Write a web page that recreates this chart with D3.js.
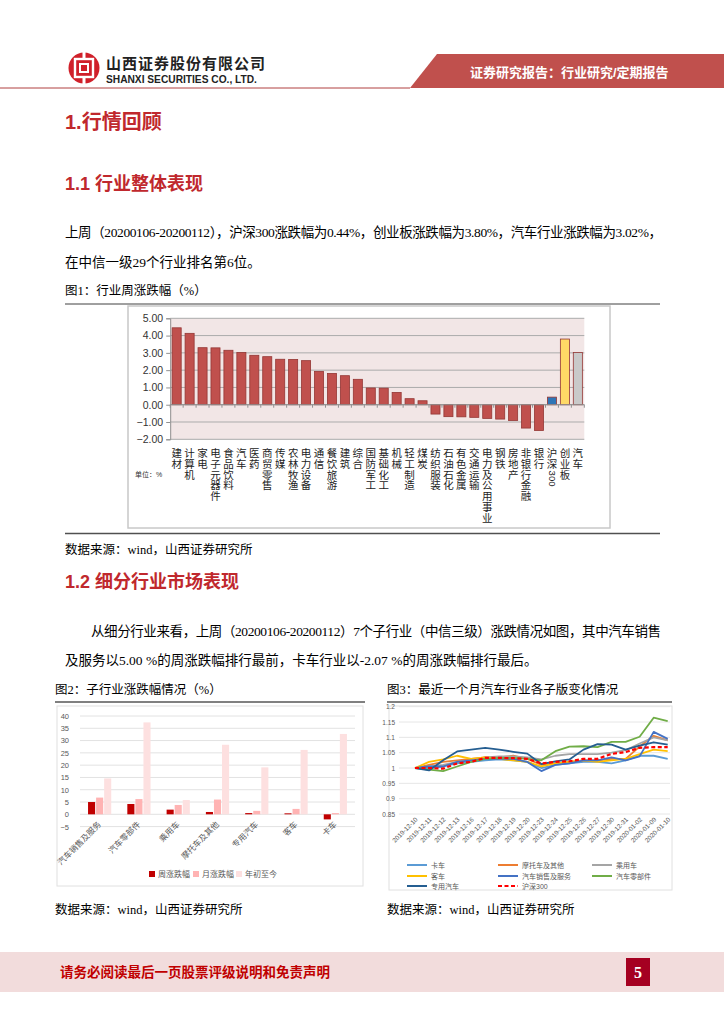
<!DOCTYPE html>
<html><head><meta charset="utf-8">
<script src="https://cdn.jsdelivr.net/npm/d3@7/dist/d3.min.js"></script>
<style>
html,body{margin:0;padding:0;background:#fff;}
svg{display:block;}
text{font-family:"Liberation Serif","Noto Sans CJK SC",serif;}
.sans{font-family:"Liberation Sans","Noto Sans CJK SC",sans-serif;}
</style></head>
<body>
<svg id="page" width="724" height="1024"></svg>
<script>
// ---------- DATA ----------
const industries = ["建材","计算机","家电","电子元器件","食品饮料","汽车","医药","商贸零售","传媒","农林牧渔","电力设备","通信","餐饮旅游","建筑","综合","国防军工","基础化工","机械","轻工制造","煤炭","纺织服装","石油石化","有色金属","交通运输","电力及公用事业","钢铁","房地产","非银行金融","银行","沪深300","创业板","汽车"];
const weeklyChange = [4.45,4.13,3.30,3.29,3.15,3.02,2.86,2.78,2.63,2.62,2.55,1.93,1.81,1.68,1.47,0.97,0.96,0.71,0.35,0.23,-0.54,-0.69,-0.70,-0.73,-0.79,-0.83,-0.91,-1.35,-1.49,0.44,3.80,3.02];
const mainTicks = [5,4,3,2,1,0,-1,-2];

const subCats = ["汽车销售及服务","汽车零部件","乘用车","摩托车及其他","专用汽车","客车","卡车"];
const subWeekly = [5.00,4.20,1.90,0.95,0.50,0.40,-2.07];
const subMonthly = [6.80,6.20,3.80,6.00,1.40,2.20,0.50];
const subYTD = [14.6,37.4,5.8,28.3,19.1,26.2,32.7];
const subSeriesNames = ["周涨跌幅","月涨跌幅","年初至今"];
const subTicks = [40,35,30,25,20,15,10,5,0,-5];

const dates = ["2019-12-10","2019-12-11","2019-12-12","2019-12-13","2019-12-16","2019-12-17","2019-12-18","2019-12-19","2019-12-20","2019-12-23","2019-12-24","2019-12-25","2019-12-26","2019-12-27","2019-12-30","2019-12-31","2020-01-02","2020-01-09","2020-01-10"];
const truck     = [1.000,1.000,1.005,1.015,1.020,1.025,1.028,1.025,1.020,1.000,1.010,1.015,1.020,1.020,1.015,1.025,1.040,1.040,1.030];
const moto      = [1.000,1.010,1.020,1.025,1.030,1.035,1.035,1.040,1.030,1.010,1.015,1.020,1.025,1.025,1.030,1.030,1.070,1.105,1.090];
const passenger = [1.000,1.005,1.010,1.020,1.025,1.035,1.038,1.038,1.035,1.028,1.040,1.045,1.045,1.045,1.050,1.058,1.080,1.100,1.090];
const bus       = [1.000,1.020,1.028,1.040,1.030,1.035,1.030,1.025,1.020,1.005,1.015,1.020,1.025,1.020,1.025,1.030,1.045,1.060,1.055];
const sales     = [1.000,1.005,1.005,1.020,1.025,1.030,1.030,1.030,1.020,0.990,1.010,1.015,1.025,1.025,1.035,1.025,1.038,1.118,1.095];
const parts     = [1.000,0.995,0.990,1.005,1.020,1.030,1.033,1.033,1.030,1.025,1.055,1.070,1.071,1.068,1.085,1.085,1.102,1.164,1.153];
const special   = [1.000,0.992,1.025,1.054,1.060,1.066,1.060,1.053,1.047,1.013,1.022,1.028,1.060,1.078,1.076,1.060,1.073,1.084,1.076];
const hs300     = [1.000,1.000,0.998,1.015,1.020,1.033,1.033,1.032,1.030,1.015,1.020,1.022,1.030,1.030,1.046,1.052,1.066,1.068,1.068];
const lineNames = ["卡车","摩托车及其他","乘用车","客车","汽车销售及服务","汽车零部件","专用汽车","沪深300"];
const lineTicks = [1.2,1.15,1.1,1.05,1,0.95,0.9,0.85];

// ---------- PAGE ----------
const svg = d3.select("#page");
const RED = "#c0282d";

// header
svg.append("circle").attr("cx",84).attr("cy",68).attr("r",15.5).attr("fill","#d0202a");
svg.append("rect").attr("x",75).attr("y",59).attr("width",18).attr("height",18).attr("fill","none").attr("stroke","#fff").attr("stroke-width",2.4);
svg.append("rect").attr("x",80).attr("y",64).attr("width",8).attr("height",8).attr("fill","none").attr("stroke","#fff").attr("stroke-width",2);
svg.append("rect").attr("x",82.5).attr("y",52).attr("width",3).attr("height",7).attr("fill","#fff");
svg.append("rect").attr("x",82.5).attr("y",77).attr("width",3).attr("height",7).attr("fill","#fff");
svg.append("text").attr("x",106).attr("y",69).attr("class","sans").attr("font-size",15).attr("font-weight","bold").attr("fill","#222").attr("letter-spacing",1).text("山西证券股份有限公司");
svg.append("text").attr("x",106).attr("y",83).attr("class","sans").attr("font-size",10.2).attr("font-weight","bold").attr("fill","#222").text("SHANXI SECURITIES CO., LTD.");
svg.append("path").attr("d","M437,54 L724,54 L724,88 L410,88 Z").attr("fill","#c0504d");
svg.append("line").attr("x1",0).attr("x2",410).attr("y1",88).attr("y2",88).attr("stroke","#b04040").attr("stroke-width",1);
svg.append("text").attr("x",470).attr("y",77).attr("class","sans").attr("font-size",13).attr("font-weight","bold").attr("fill","#fff").text("证券研究报告：行业研究/定期报告");

// headings
function heading(txt,y,size){ svg.append("text").attr("x",65).attr("y",y).attr("class","sans").attr("font-size",size).attr("font-weight","bold").attr("fill",RED).text(txt); }
heading("1.行情回顾",129,20);
heading("1.1 行业整体表现",190,18);
heading("1.2 细分行业市场表现",588,18);

function para(txt,x,y,len){ const t=svg.append("text").attr("x",x).attr("y",y).attr("font-size",13.5).attr("fill","#000").text(txt); if(len) t.attr("textLength",len).attr("lengthAdjust","spacing"); }
para("上周（20200106-20200112），沪深300涨跌幅为0.44%，创业板涨跌幅为3.80%，汽车行业涨跌幅为3.02%，",65,237,597);
para("在中信一级29个行业排名第6位。",65,267);
para("从细分行业来看，上周（20200106-20200112）7个子行业（中信三级）涨跌情况如图，其中汽车销售",91,636,570);
para("及服务以5.00 %的周涨跌幅排行最前，卡车行业以-2.07 %的周涨跌幅排行最后。",65,665);

function cap(txt,x,y){ svg.append("text").attr("x",x).attr("y",y).attr("font-size",12.5).attr("fill","#000").text(txt); }
cap("图1：行业周涨跌幅（%）",65,295);
cap("数据来源：wind，山西证券研究所",65,554);
cap("图2：子行业涨跌幅情况（%）",55,694);
cap("图3：最近一个月汽车行业各子版变化情况",387,694);
cap("数据来源：wind，山西证券研究所",55,914);
cap("数据来源：wind，山西证券研究所",387,914);

function hline(x1,x2,y,w,c){ svg.append("line").attr("x1",x1).attr("x2",x2).attr("y1",y).attr("y2",y).attr("stroke",c).attr("stroke-width",w); }
hline(65,660,304,1,"#404040");
hline(65,660,533.5,1.5,"#505050");
hline(55,365,702,2,"#808080");
hline(387,672,702,2,"#808080");

// ---------- FIG 1 ----------
svg.append("rect").attr("x",128).attr("y",306).attr("width",482).attr("height",222).attr("fill","#fff").attr("stroke","#c8c8c8").attr("stroke-width",1.5);
const x1 = d3.scaleBand().domain(d3.range(industries.length)).range([170.2,584.3]).paddingInner(0.3).paddingOuter(0.15);
const y1 = d3.scaleLinear().domain([-2,5]).range([439.3,318.3]);
const g1 = svg.append("g");
g1.append("rect").attr("x",170.2).attr("y",y1(5)).attr("width",584.3-170.2).attr("height",y1(-2)-y1(5)).attr("fill","#f2e6e6");
g1.selectAll(".grid").data(mainTicks).join("line").attr("x1",170.2).attr("x2",584.3).attr("y1",d=>y1(d)).attr("y2",d=>y1(d)).attr("stroke","#ababab").attr("stroke-width",1);
const yAx1 = d3.axisLeft(y1).tickValues(mainTicks).tickFormat(d3.format(".2f")).tickSize(4);
const ya1 = g1.append("g").attr("transform","translate(170.2,0)").call(yAx1);
ya1.select(".domain").attr("stroke","#909090");
ya1.selectAll(".tick line").attr("stroke","#909090");
ya1.selectAll("text").attr("font-size",10.5).attr("fill","#333").attr("class","sans").attr("x",-7);
const barColor = (i)=> i===29?"#2e75b6": i===30?"#ffd966": i===31?"#c9c9c9":"#c0504d";
g1.selectAll(".bar").data(weeklyChange).join("rect")
  .attr("x",(d,i)=>x1(i)).attr("width",x1.bandwidth())
  .attr("y",d=>y1(Math.max(0,d))).attr("height",d=>Math.abs(y1(d)-y1(0)))
  .attr("fill",(d,i)=>barColor(i)).attr("stroke","#943634").attr("stroke-width",0.8);
g1.append("line").attr("x1",170.2).attr("x2",584.3).attr("y1",y1(0)).attr("y2",y1(0)).attr("stroke","#909090");
g1.selectAll(".xt").data(d3.range(industries.length+1)).join("line")
  .attr("x1",i=>170.2+ (584.3-170.2)/industries.length*i).attr("x2",i=>170.2+(584.3-170.2)/industries.length*i)
  .attr("y1",y1(0)).attr("y2",y1(0)+3).attr("stroke","#909090");
// vertical labels
industries.forEach((name,i)=>{
  const cx = x1(i)+x1.bandwidth()/2;
  const tokens = name.match(/[0-9]+|./g);
  let yy = 457;
  tokens.forEach(tk=>{
    if(/^[0-9]+$/.test(tk)){
      svg.append("text").attr("class","sans").attr("font-size",9.5).attr("fill","#222")
        .attr("transform",`translate(${cx-3.3},${yy-8}) rotate(90)`).text(tk);
      yy += tk.length*5.5+2;
    } else {
      svg.append("text").attr("x",cx).attr("y",yy).attr("text-anchor","middle").attr("class","sans").attr("font-size",10.5).attr("fill","#222").text(tk);
      yy += 10.8;
    }
  });
});
svg.append("text").attr("x",135).attr("y",477).attr("class","sans").attr("font-size",7).attr("fill","#333").text("单位：%");

// ---------- FIG 2 ----------
svg.append("rect").attr("x",57).attr("y",706).attr("width",306).attr("height",180).attr("fill","#fff").attr("stroke","#e0e0e0").attr("stroke-width",1);
const x2 = d3.scaleBand().domain(subCats).range([80,355]).paddingInner(0.36).paddingOuter(0.18);
const x2s = d3.scaleBand().domain(subSeriesNames).range([0,x2.bandwidth()]).padding(0.12);
const y2 = d3.scaleLinear().domain([-5,40]).range([826.6,716]);
const g2 = svg.append("g");
g2.selectAll(".grid").data(subTicks).join("line").attr("x1",80).attr("x2",355).attr("y1",d=>y2(d)).attr("y2",d=>y2(d)).attr("stroke","#e2e2e2");
const yAx2 = d3.axisLeft(y2).tickValues(subTicks).tickSize(0).tickFormat(d3.format("d"));
const ya2 = g2.append("g").attr("transform","translate(72,0)").call(yAx2);
ya2.select(".domain").remove();
ya2.selectAll("text").attr("font-size",7.5).attr("fill","#595959").attr("class","sans");
const subColors = ["#c00000","#ffb3b3","#fde0e0"];
const subData = [subWeekly,subMonthly,subYTD];
subData.forEach((arr,si)=>{
  g2.selectAll(".b"+si).data(arr).join("rect")
    .attr("x",(d,i)=>x2(subCats[i])+x2s(subSeriesNames[si])).attr("width",x2s.bandwidth())
    .attr("y",d=>y2(Math.max(0,d))).attr("height",d=>Math.abs(y2(d)-y2(0)))
    .attr("fill",subColors[si]);
});
subCats.forEach(c=>{
  const cx = x2(c)+x2.bandwidth()/2+2;
  g2.append("text").attr("class","sans").attr("font-size",8.2).attr("fill","#595959").attr("text-anchor","end")
    .attr("transform",`translate(${cx},${825}) rotate(-45)`).text(c);
});
const legX2 = [149,193,236];
subSeriesNames.forEach((n,i)=>{
  g2.append("rect").attr("x",legX2[i]).attr("y",871).attr("width",6).attr("height",6).attr("fill",subColors[i]);
  g2.append("text").attr("x",legX2[i]+9).attr("y",877).attr("class","sans").attr("font-size",8).attr("fill","#595959").text(n);
});

// ---------- FIG 3 ----------
svg.append("rect").attr("x",389).attr("y",706).attr("width",283).attr("height",184).attr("fill","#fff").attr("stroke","#e0e0e0").attr("stroke-width",1);
const x3 = d3.scalePoint().domain(dates).range([415,667.7]);
const y3 = d3.scaleLinear().domain([0.85,1.2]).range([814,706.7]);
const g3 = svg.append("g");
g3.selectAll(".grid").data(lineTicks).join("line").attr("x1",399).attr("x2",670).attr("y1",d=>y3(d)).attr("y2",d=>y3(d)).attr("stroke","#e6e6e6");
const yAx3 = d3.axisLeft(y3).tickValues(lineTicks).tickSize(0).tickFormat(d=>String(+d.toFixed(2)));
const ya3 = g3.append("g").attr("transform","translate(398,0)").call(yAx3);
ya3.select(".domain").remove();
ya3.selectAll("text").attr("font-size",6.5).attr("fill","#595959").attr("class","sans");
const lineSeries = [truck,moto,passenger,bus,sales,parts,special,hs300];
const lineColors = ["#5b9bd5","#ed7d31","#a5a5a5","#ffc000","#4472c4","#70ad47","#255e91","#ff0000"];
const lineGen = d3.line().x((d,i)=>x3(dates[i])).y(d=>y3(d));
lineSeries.forEach((s,k)=>{
  g3.append("path").datum(s).attr("d",lineGen).attr("fill","none").attr("stroke",lineColors[k])
    .attr("stroke-width",k===7?2.2:1.8).attr("stroke-dasharray",k===7?"4,2.5":null).attr("stroke-linejoin","round");
});
dates.forEach(dt=>{
  g3.append("text").attr("class","sans").attr("font-size",6.4).attr("fill","#595959").attr("text-anchor","end")
    .attr("transform",`translate(${x3(dt)+3},${820}) rotate(-45)`).text(dt);
});
const legPos3 = [[407,865],[498,865],[592,865],[407,876],[498,876],[592,876],[407,886],[498,886]];
lineNames.forEach((n,k)=>{
  const [lx,ly]=legPos3[k];
  g3.append("line").attr("x1",lx).attr("x2",lx+20).attr("y1",ly).attr("y2",ly).attr("stroke",lineColors[k]).attr("stroke-width",2).attr("stroke-dasharray",k===7?"4,2.5":null);
  g3.append("text").attr("x",lx+24).attr("y",ly+2.5).attr("class","sans").attr("font-size",7).attr("fill","#595959").text(n);
});

// ---------- FOOTER ----------
svg.append("rect").attr("x",0).attr("y",952).attr("width",724).attr("height",40).attr("fill","#f2dcdc");
svg.append("text").attr("x",60).attr("y",977).attr("font-size",13.5).attr("font-weight","bold").attr("fill","#c00000").text("请务必阅读最后一页股票评级说明和免责声明");
svg.append("rect").attr("x",626).attr("y",958).attr("width",24).attr("height",28).attr("fill","#a50021");
svg.append("text").attr("x",638).attr("y",978).attr("text-anchor","middle").attr("font-size",16).attr("font-weight","bold").attr("fill","#fff").text("5");
</script>
</body></html>
